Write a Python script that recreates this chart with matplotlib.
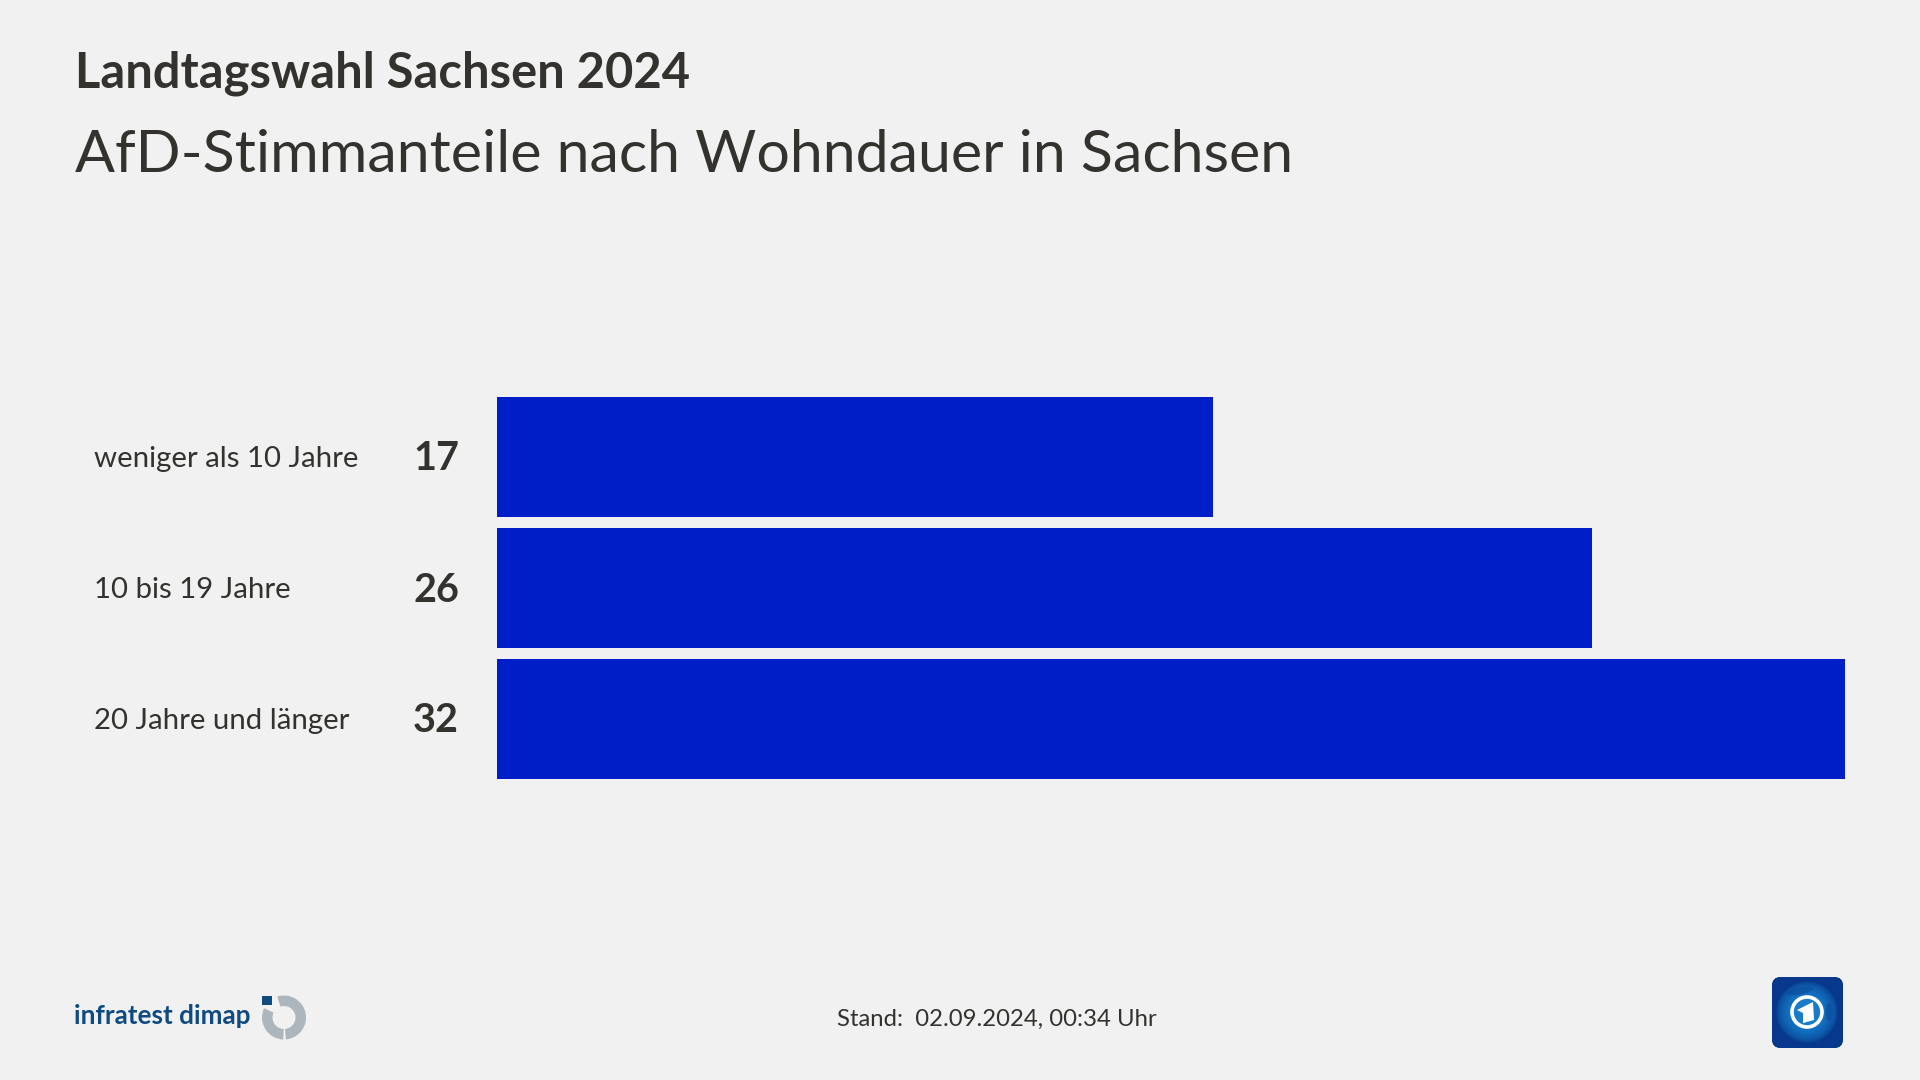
import matplotlib
matplotlib.use('Agg')
import matplotlib.pyplot as plt
import numpy as np
from matplotlib.patches import Circle, Ellipse, FancyBboxPatch, Polygon, Rectangle, Wedge

# Data
categories = ['weniger als 10 Jahre', '10 bis 19 Jahre', '20 Jahre und länger']
values = [17, 26, 32]

title_top = 'Landtagswahl Sachsen 2024'
title_main = 'AfD-Stimmanteile nach Wohndauer in Sachsen'
stand = 'Stand:  02.09.2024, 00:34 Uhr'

BG = '#f1f1f1'
BAR = '#001ec8'
TEXT = '#33322f'
W, H = 1920, 1080

plt.rcParams['font.family'] = ['Lato', 'DejaVu Sans']

fig = plt.figure(figsize=(19.2, 10.8), dpi=100, facecolor=BG)

# Bars, axes placed in pixel terms
ax = fig.add_axes([497 / W, 1 - 779 / H, (1845 - 497) / W, (779 - 397) / H])
y = np.arange(len(categories))
ax.barh(y, values, height=0.916, color=BAR)
ax.set_xlim(0, 32)
ax.set_ylim(2.458, -0.458)
ax.axis('off')

# Overlay in pixel coordinates for text and logos
ov = fig.add_axes([0, 0, 1, 1], zorder=5)
ov.axis('off')

ov.text(75, 73, title_top, fontsize=35.2, fontweight='bold', color=TEXT, va='center', ha='left')
ov.text(75, 155, title_main, fontsize=42.6, color=TEXT, va='center', ha='left')

for i, (cat, val) in enumerate(zip(categories, values)):
    yc = 459 + i * 131
    ov.text(94, yc, cat, fontsize=21.2, color=TEXT, va='center', ha='left')
    ov.text(459, yc, str(val), fontsize=28.5, fontweight='bold', color=TEXT, va='center', ha='right')

ov.text(837, 1019, stand, fontsize=17.2, color=TEXT, va='center', ha='left')

# infratest dimap logo
ov.text(74, 1016, 'infratest dimap', fontsize=18.8, fontweight='bold', color='#0f4a80',
        va='center', ha='left')
ov.add_patch(Rectangle((262, 996), 10, 9, color='#0f4a80', lw=0))
# y axis is inverted here, so the angles run clockwise on screen
ov.add_patch(Wedge((284, 1017.5), 22, -108, 85, width=10.5, color='#adb6bd', lw=0))
ov.add_patch(Wedge((284, 1017.5), 22, 92, 205, width=10.5, color='#adb6bd', lw=0))

# tagesschau style logo
box = FancyBboxPatch((1778, 983), 59, 59, boxstyle='round,pad=6,rounding_size=9',
                     fc='#0a3f8f', ec='none')
ov.add_patch(box)
gy, gx = np.mgrid[977:1048:300j, 1772:1843:300j]
r = np.hypot(gx - 1807, gy - 1012)
glow = np.clip(1 - r / 31, 0, 1) ** 0.55
edge = np.clip((33 - r) / 3, 0, 1)
dark = np.array([0.03, 0.22, 0.55])
light = np.array([0.10, 0.58, 0.88])
img = dark + (light - dark) * (glow * edge)[..., None]
im = ov.imshow(img, extent=(1772, 1843, 1048, 977), zorder=2, aspect='auto')
im.set_clip_path(box)
# land masses on the globe
ov.add_patch(Ellipse((1800, 991), 26, 7, angle=-10, fc='#0a4f9e', ec='none', alpha=0.7, zorder=3))
ov.add_patch(Ellipse((1829, 1012), 7, 18, fc='#0a4f9e', ec='none', alpha=0.7, zorder=3))
ov.add_patch(Circle((1807, 1012), 15, fc='#1a7cc8', ec='white', lw=2.6, zorder=4))
ov.add_patch(Polygon([(1797, 1010), (1813, 1002), (1814, 1020), (1803, 1023), (1803, 1013)],
                     closed=True, fc='white', ec='none', zorder=5))
ov.set_xlim(0, W)
ov.set_ylim(H, 0)

fig.savefig('out.png', dpi=100, facecolor=BG)
plt.close()
